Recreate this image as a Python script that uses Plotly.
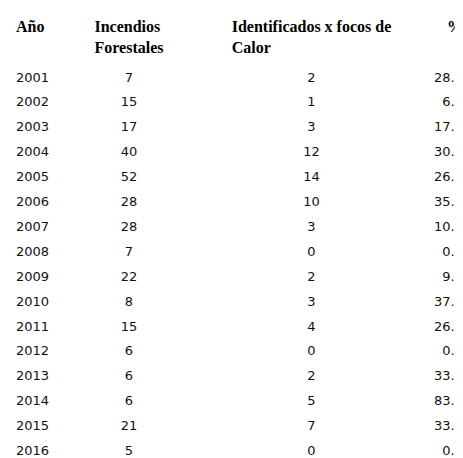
import plotly.graph_objects as go

years = ["2001", "2002", "2003", "2004", "2005", "2006", "2007", "2008",
         "2009", "2010", "2011", "2012", "2013", "2014", "2015", "2016", "Total"]
incendios = [7, 15, 17, 40, 52, 28, 28, 7, 22, 8, 15, 6, 6, 6, 21, 5, 283]
focos = [2, 1, 3, 12, 14, 10, 3, 0, 2, 3, 4, 0, 2, 5, 7, 0, 68]
pct = ["28.6", "6.7", "17.6", "30.0", "26.9", "35.7", "10.7", "0.0", "9.1",
       "37.5", "26.7", "0.0", "33.3", "83.3", "33.3", "0.0", "24"]
headers = ["Año", "Incendios Forestales", "Identificados x focos de Calor", "%"]

fig = go.Figure(
    go.Table(
        columnwidth=[46, 150, 215, 52],
        header=dict(
            values=[f"<b>{h}</b>" for h in headers],
            align=["left", "center", "center", "right"],
            fill_color="white",
            line_color="white",
            font=dict(family="Liberation Serif", size=16, color="black"),
            height=28,
        ),
        cells=dict(
            values=[years, incendios, focos, pct],
            align=["left", "center", "center", "right"],
            fill_color="white",
            line_color="white",
            font=dict(family="DejaVu Sans", size=13, color="#111"),
            height=24.9,
        ),
    )
)

fig.update_layout(
    width=463,
    height=458,
    margin=dict(l=0, r=0, t=2, b=0),
    paper_bgcolor="white",
)
fig.write_html("out.html")
